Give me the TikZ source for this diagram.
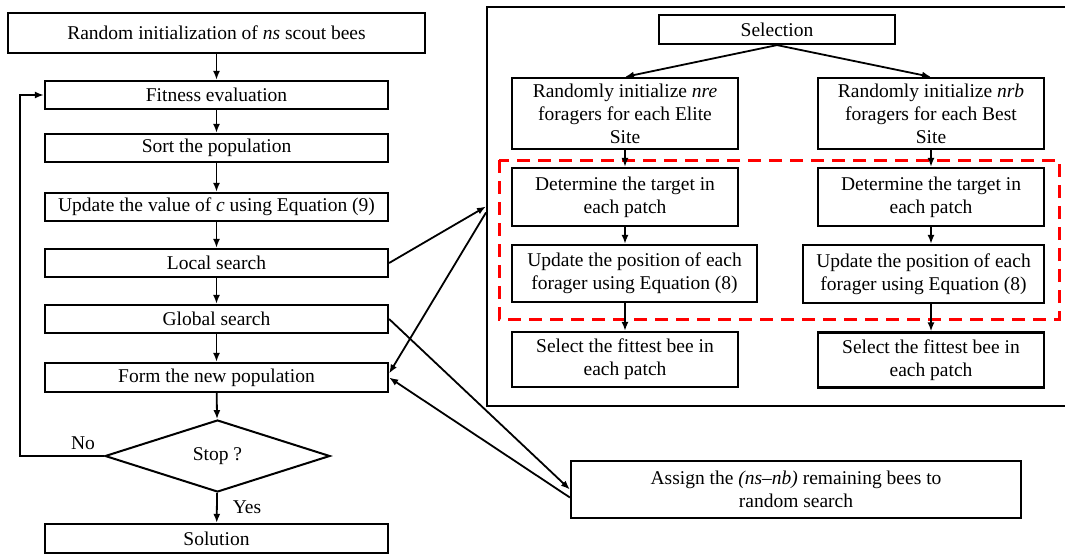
\documentclass[tikz,border=0pt]{standalone}
\usepackage{fontspec}
\setmainfont{Liberation Serif}
\usetikzlibrary{arrows.meta,shapes.geometric}

\begin{document}
\begin{tikzpicture}[x=1pt, y=-1pt,
    every node/.style={font=\fontsize{19.5}{23}\selectfont},
    stepbox/.style={draw, line width=2.2pt, inner sep=0pt, align=center,
      minimum width=#1},
    stepbox/.default=343,
    flow/.style={line width=1.8pt, -{Latex[length=9pt, width=7pt]}}]
  \useasboundingbox (0, 0) rectangle (1065, 554);
  % main loop
  \node[stepbox=417, minimum height=40] (init) at (216.5, 33) {Random initialization of \textit{ns} scout bees};
  \node[stepbox, minimum height=28] (fit) at (216.5, 95) {Fitness evaluation};
  \node[stepbox, minimum height=28] (sort) at (216.5, 148) {Sort the population};
  \node[stepbox, minimum height=28] (upd) at (216.5, 207) {Update the value of \textit{c} using Equation (9)};
  \node[stepbox, minimum height=28] (local) at (216.5, 263) {Local search};
  \node[stepbox, minimum height=28] (global) at (216.5, 319) {Global search};
  \node[stepbox, minimum height=29] (form) at (216.5, 377.5) {Form the new population};
  \node[draw, line width=2pt, shape=diamond, inner sep=0pt, minimum width=225,
    minimum height=72] (stop) at (217.5, 456) {Stop ?};
  \node[stepbox, minimum height=29] (sol) at (216.5, 538.5) {Solution};
  \draw[flow] (init) to (fit);
  \draw[flow] (fit) to (sort);
  \draw[flow] (sort) to (upd);
  \draw[flow] (upd) to (local);
  \draw[flow] (local) to (global);
  \draw[flow] (global) to (form);
  \draw[flow] (form) to (stop);
  \draw[flow] (stop) to (sol);
  \draw[flow] (stop.west) -- ++(-84, 0) |- (fit.west);
  \node at (83, 443) {No};
  \node at (247, 507) {Yes};
  % local search panel
  \node[draw, line width=2pt, minimum width=581, minimum height=399] (panel) at (777.5, 206.5) {};
  \node[stepbox=236, minimum height=29] (sel) at (777, 29.5) {Selection};
  \node[stepbox=226, minimum height=71] (elite) at (625, 113.5) {Randomly initialize \textit{nre}\\foragers for each Elite\\Site};
  \node[stepbox=226, minimum height=71] (best) at (931, 113.5) {Randomly initialize \textit{nrb}\\foragers for each Best\\Site};
  \node[stepbox=226, minimum height=58] (detA) at (625, 197) {Determine the target in\\each patch};
  \node[stepbox=226, minimum height=58] (detB) at (931, 197) {Determine the target in\\each patch};
  \node[stepbox=245, minimum height=57] (posA) at (634.5, 273.5) {Update the position of each\\forager using Equation (8)};
  \node[stepbox=241, minimum height=58] (posB) at (923.5, 274) {Update the position of each\\forager using Equation (8)};
  \node[stepbox=226, minimum height=55] (bestA) at (625, 359.5) {Select the fittest bee in\\each patch};
  \node[stepbox=226, minimum height=55] (bestB) at (931, 360) {Select the fittest bee in\\each patch};
  \draw[red, line width=3pt, dash pattern=on 13pt off 8pt] (499, 160) rectangle (1059, 319);
  \draw[flow] (sel.south) to (elite.north);
  \draw[flow] (sel.south) to (best.north);
  \draw[flow] (elite) to (detA);
  \draw[flow] (best) to (detB);
  \draw[flow] (detA.south) to (detA.south |- posA.north);
  \draw[flow] (detB.south) to (detB.south |- posB.north);
  \draw[flow] (bestA.north |- posA.south) to (bestA.north);
  \draw[flow] (bestB.north |- posB.south) to (bestB.north);
  % random search
  \node[stepbox=450, minimum height=57] (rand) at (796, 489.5) {Assign the \textit{(ns--nb)} remaining bees to\\random search};
  \draw[flow] (local.east) to (panel.west);
  \draw[flow] ([yshift=-6pt]panel.west) to ([yshift=4pt]form.east);
  \draw[flow] (global.east) to (rand.west);
  \draw[flow] ([yshift=-8pt]rand.west) to (form.east);
\end{tikzpicture}
\end{document}
